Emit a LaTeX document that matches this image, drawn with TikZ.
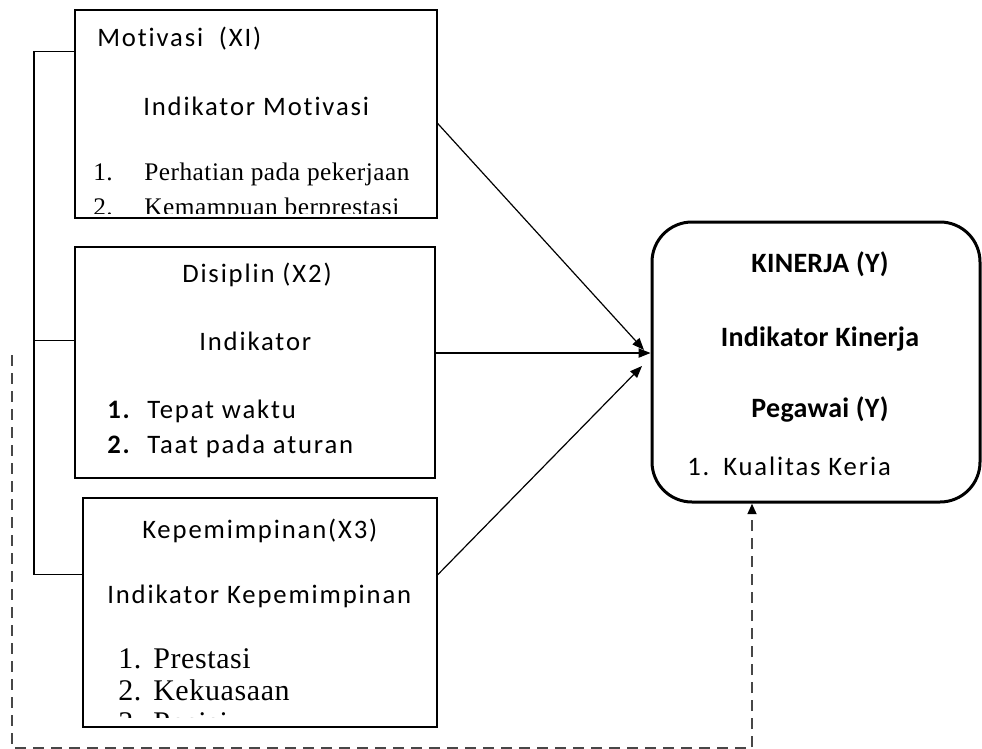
\documentclass[tikz,border=0pt]{standalone}
\usepackage{fontspec}
\setmainfont{Carlito}[LetterSpace=7, Ligatures=NoCommon]
\newfontfamily\boldfont{Carlito}[LetterSpace=1, Ligatures=NoCommon]
\newfontfamily\listfont{Liberation Serif}[LetterSpace=2]
\usetikzlibrary{arrows.meta}

\begin{document}
\begin{tikzpicture}[x=0.75pt, y=-0.75pt,
    box/.style = {draw, line width=1.1pt, inner sep=0pt},
    txt/.style = {anchor=base west, inner sep=0pt, font=\fontsize{20}{22}\selectfont},
    ser/.style = {anchor=base west, inner sep=0pt, font=\listfont\fontsize{#1}{#1}\selectfont},
    ktxt/.style = {anchor=base, inner sep=0pt, font=\boldfont\bfseries\fontsize{21}{23}\selectfont},
    arr/.style = {-{Triangle[length=9pt, width=7pt]}, line width=0.9pt},
    fb/.style = {draw=black!72, line width=1.9pt, dash pattern=on 8pt off 5.5pt,
                 -{Triangle[length=8pt, width=6.5pt, fill=black, color=black]}}]
        \useasboundingbox (0,0) rectangle (982,749);

        % The three boxes of the variables X
        \node[box, minimum width=271.5pt, minimum height=156pt] (motiv) at (256,114) {};
        \node[box, minimum width=270pt, minimum height=173.25pt] (disc) at (255,362.5) {};
        \node[box, minimum width=265.5pt, minimum height=171.75pt] (lead) at (260,612.5) {};

        % The box of Y
        \node[draw, line width=2.25pt, rounded corners=30pt, minimum width=246pt,
              minimum height=210pt, inner sep=0pt] (kin) at (816,362) {};

        % Texts of box X1
        \node[txt] (motTitle) at (97,47) {Motivasi~ (XI)};
        \node[txt] (motInd) at (143,115) {Indikator Motivasi};
        \node[ser=19] (motN1) at (93,180) {1.};
        \node[ser=19] (motL1) at (144,180) {Perhatian pada pekerjaan};
        \begin{scope}
            \clip (75,10) rectangle (437,213);
            \node[ser=19] (motN2) at (93,215) {2.};
            \node[ser=19] (motL2) at (144,215) {Kemampuan berprestasi};
        \end{scope}

        % Texts of box X2
        \node[txt] (discTitle) at (182,282) {Disiplin (X2)};
        \node[txt] (discInd) at (199,350) {Indikator};
        \node[txt] (discN1) at (107,418) {\textbf{1.}};
        \node[txt] (discL1) at (147,418) {Tepat waktu};
        \node[txt] (discN2) at (107,453) {\textbf{2.}};
        \node[txt] (discL2) at (147,453) {Taat pada aturan};

        % Texts of box X3
        \node[txt] (leadTitle) at (142,538) {Kepemimpinan(X3)};
        \node[txt] (leadInd) at (107,603) {Indikator Kepemimpinan};
        \node[ser=22.5] (leadN1) at (118,668) {1.};
        \node[ser=22.5] (leadL1) at (153,668) {Prestasi};
        \node[ser=22.5] (leadN2) at (118,700) {2.};
        \node[ser=22.5] (leadL2) at (153,700) {Kekuasaan};
        \begin{scope}
            \clip (83,498) rectangle (437,717);
            \node[ser=22.5] (leadN3) at (118,732) {3.};
            \node[ser=22.5] (leadL3) at (153,732) {Posisi};
        \end{scope}

        % Texts of box Y
        \node[ktxt] (kinTitle) at (820,272) {KINERJA (Y)};
        \node[ktxt] (kinInd) at (820,346) {Indikator Kinerja};
        \node[ktxt] (kinPeg) at (820,417) {Pegawai (Y)};
        \node[txt] (kinN1) at (687,475) {1.};
        \node[txt] (kinL1) at (723,475) {Kualitas Keria};

        % Bracket on the left
        \coordinate (spine) at (34,0);
        \draw[line width=1pt] (motiv.161) -| (spine |- lead.168) -- (lead.168);
        \draw[line width=1pt] (disc.173) -- (disc.173 -| spine);

        % Arrows to Y
        \coordinate (tipA) at (644,350);
        \coordinate (tipC) at (642,366);
        \draw[arr] (motiv.-3) -- (tipA);
        \draw[arr] (disc.3) -- (disc.3 -| kin.west);
        \draw[arr] (lead.12) -- (tipC);

        % Dashed feedback line
        \coordinate (fbStart) at (12,355);
        \coordinate (fbTurn) at (752,748);
        \draw[fb] (fbStart) |- (fbTurn) -- (fbTurn |- kin.south);
      \end{tikzpicture}
\end{document}
